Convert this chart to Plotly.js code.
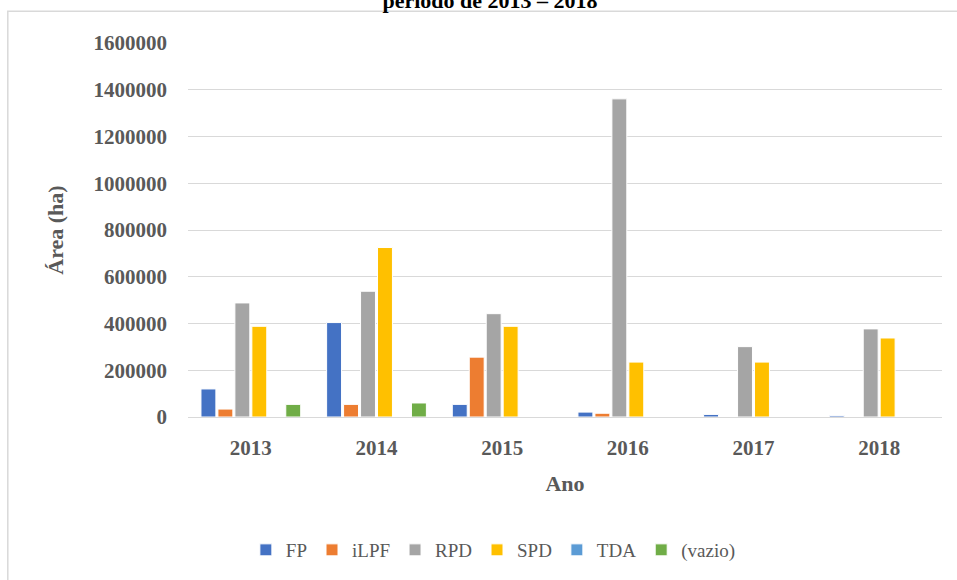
<!DOCTYPE html>
<html>
<head>
<meta charset="utf-8">
<script src="https://cdn.plot.ly/plotly-3.0.1.min.js"></script>
<style>html,body{margin:0;padding:0;background:#fff;}#chart{width:957px;height:580px;}</style>
</head>
<body>
<div id="chart"></div>
<script>
var years = ["2013", "2014", "2015", "2016", "2017", "2018"];
var FP    = [120000, 404000, 54000, 21000, 11000, 6000];
var iLPF  = [34000, 54000, 256000, 16000, null, null];
var RPD   = [488000, 538000, 442000, 1361000, 301000, 377000];
var SPD   = [388000, 725000, 388000, 235000, 235000, 338000];
var TDA   = [null, null, null, null, null, null];
var vazio = [54000, 60000, null, null, null, null];
var seriesNames = ["FP", "iLPF", "RPD", "SPD", "TDA", "(vazio)"];
var seriesColors = ["#4472C4", "#ED7D31", "#A5A5A5", "#FFC000", "#5B9BD5", "#70AD47"];
var yTicks = [0, 200000, 400000, 600000, 800000, 1000000, 1200000, 1400000, 1600000];

var seriesData = [FP, iLPF, RPD, SPD, TDA, vazio];
var traces = seriesData.map(function (vals, i) {
  return {
    type: "bar",
    name: seriesNames[i],
    x: years,
    y: vals,
    marker: { color: seriesColors[i], line: { color: "#ffffff", width: 1 } },
    hoverinfo: "x+y+name"
  };
});

var serif = "'Liberation Serif', 'Times New Roman', serif";
var layout = {
  width: 957,
  height: 580,
  margin: { l: 188, r: 15, t: 43, b: 162 },
  paper_bgcolor: "#ffffff",
  plot_bgcolor: "#ffffff",
  font: { family: serif, color: "#595959" },
  barmode: "group",
  bargap: 0.19,
  bargroupgap: 0.12,
  showlegend: true,
  title: {
    text: "<b>período de 2013 – 2018</b>",
    font: { family: serif, size: 22, color: "#000000" },
    xref: "container", x: 0.512, xanchor: "center",
    yref: "container", y: 1.0, yanchor: "middle"
  },
  xaxis: {
    type: "category",
    showgrid: false,
    showline: true,
    linecolor: "#d9d9d9",
    linewidth: 1,
    ticks: "",
    ticklabelstandoff: 12,
    tickfont: { family: serif, size: 21, color: "#595959", weight: "bold" },
    title: { text: "<b>Ano</b>", font: { family: serif, size: 22, color: "#595959" }, standoff: 16 }
  },
  yaxis: {
    range: [0, 1600000],
    tickvals: yTicks,
    ticktext: yTicks.map(function (v) { return String(v); }),
    showgrid: true,
    gridcolor: "#d9d9d9",
    gridwidth: 1,
    zeroline: false,
    showline: false,
    ticks: "",
    ticklabelstandoff: 20,
    tickfont: { family: serif, size: 21, color: "#595959", weight: "bold" },
    title: { text: "<b>Área (ha)</b>", font: { family: serif, size: 22, color: "#595959" }, standoff: 23 }
  },
  legend: {
    orientation: "h",
    x: 0.405, xanchor: "center",
    y: -0.352, yanchor: "middle",
    font: { family: serif, size: 19, color: "#595959" },
    itemwidth: 30,
    traceorder: "normal"
  },
  shapes: [{
    type: "rect", xref: "paper", yref: "paper",
    x0: -0.239, x1: 1.1, y0: -0.6, y1: 1.085,
    line: { color: "#d9d9d9", width: 1.5 },
    fillcolor: "rgba(0,0,0,0)",
    layer: "below"
  }]
};

Plotly.newPlot("chart", traces, layout, { displayModeBar: false, staticPlot: true });
</script>
</body>
</html>
